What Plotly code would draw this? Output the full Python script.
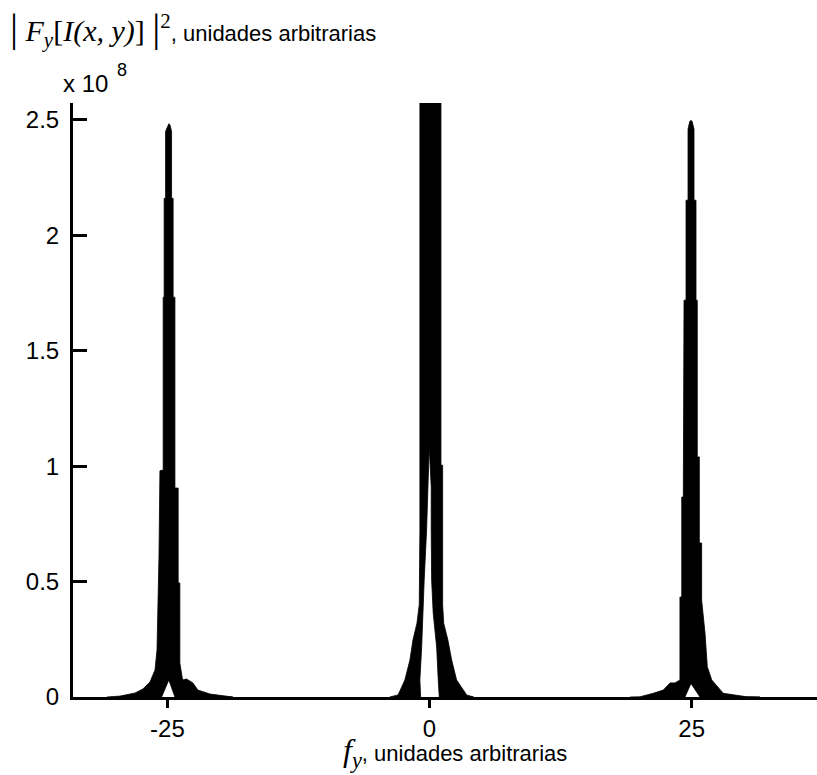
import plotly.graph_objects as go

# ---------------- data (frequency f_y, magnitude |F|^2 in units of 1e8) ----------------
# Outlines of the three black spectral lobes (peak at -25, 0, +25).
left_peak_f = [-30.77, -29.52, -28.09, -27.33, -26.66, -26.18, -25.99, -25.87, -25.80, -25.71,
               -25.40, -25.40, -25.31, -25.31, -25.17, -25.17, -24.97, -24.86, -24.75, -24.60,
               -24.60, -24.45, -24.45, -24.28, -24.28, -23.97, -23.97, -23.81, -23.81, -23.65,
               -23.55, -23.17, -22.57, -22.09, -20.94, -18.75,
               -24.28, -24.86, -25.55]
left_peak_mag = [0.0, 0.004, 0.017, 0.035, 0.065, 0.117, 0.203, 0.42, 0.61, 0.98,
                 0.983, 1.732, 1.732, 2.16, 2.16, 2.45, 2.478, 2.483, 2.478, 2.45,
                 2.16, 2.16, 1.732, 1.732, 0.905, 0.905, 0.494, 0.494, 0.147, 0.095,
                 0.074, 0.078, 0.061, 0.030, 0.013, 0.0,
                 0.0, 0.074, 0.0]

center_peak_f = [-3.80, -3.00, -2.35, -1.87, -1.58, -1.20, -0.98, -0.95,
                 -0.92, -0.92, 1.09, 1.09, 1.25, 1.25, 1.35, 1.75, 2.11, 2.58,
                 3.54, 4.20,
                 0.93, 0.83, 0.68, 0.35, 0.20, 0.16, 0.16, -0.03, -0.12, -0.28,
                 -0.51, -0.60, -0.75, -0.92, -0.85]
center_peak_mag = [0.0, 0.009, 0.074, 0.16, 0.247, 0.32, 0.40, 0.60,
                   0.72, 3.20, 3.20, 1.004, 1.004, 0.40, 0.32, 0.247, 0.16, 0.074,
                   0.009, 0.0,
                   0.0, 0.074, 0.216, 0.364, 0.506, 0.723, 0.91, 1.084, 0.91, 0.723,
                   0.506, 0.364, 0.216, 0.074, 0.0]

right_peak_f = [19.11, 20.07, 21.34, 22.29, 22.94, 23.41, 23.88, 23.88, 24.05, 24.05,
                24.20, 24.20, 24.27, 24.27, 24.46, 24.46, 24.65, 24.65, 24.82, 24.93,
                25.04, 25.22, 25.22, 25.41, 25.41, 25.53, 25.53, 25.73, 25.73, 25.95,
                25.95, 26.27, 26.49, 26.91, 28.01, 30.25, 31.50,
                25.79, 24.93, 24.36]
right_peak_mag = [0.0, 0.001, 0.016, 0.030, 0.061, 0.061, 0.074, 0.433, 0.433, 0.866,
                  0.866, 1.286, 1.286, 1.719, 1.719, 2.152, 2.152, 2.46, 2.493, 2.498,
                  2.493, 2.46, 2.152, 2.152, 1.719, 1.719, 1.040, 1.040, 0.667, 0.667,
                  0.42, 0.277, 0.131, 0.074, 0.016, 0.001, 0.0,
                  0.0, 0.059, 0.0]

x_tick_vals = [-25, 0, 25]
x_tick_text = ["-25", "0", "25"]
y_tick_vals = [0, 0.5, 1, 1.5, 2, 2.5]
y_tick_text = ["0", "0.5", "1", "1.5", "2", "2.5"]

x_range = [-34.0, 36.95]
y_range = [0, 2.573]

SANS = "Liberation Sans, Arial, sans-serif"
SERIF = "Liberation Serif, Times New Roman, serif"

fig = go.Figure()
for fx, my in [(left_peak_f, left_peak_mag), (center_peak_f, center_peak_mag),
               (right_peak_f, right_peak_mag)]:
    fig.add_trace(go.Scatter(
        x=fx, y=my, mode="lines", fill="toself", fillcolor="black",
        line=dict(color="black", width=0.8), hoverinfo="skip", showlegend=False))

fig.update_layout(
    width=817, height=775,
    margin=dict(l=73, r=0, t=103, b=78),
    paper_bgcolor="white", plot_bgcolor="white",
    font=dict(family=SANS, size=24, color="black"),
    showlegend=False,
)
fig.update_xaxes(
    range=x_range, tickvals=x_tick_vals, ticktext=x_tick_text,
    showgrid=False, zeroline=False, showline=True, linecolor="black", linewidth=3,
    ticks="outside", ticklen=8, tickwidth=3, tickcolor="black",
    tickfont=dict(family=SANS, size=24, color="black"),
)
fig.update_yaxes(
    range=y_range, tickvals=y_tick_vals, ticktext=y_tick_text,
    showgrid=False, zeroline=False, showline=True, linecolor="black", linewidth=3,
    ticks="inside", ticklen=14, tickwidth=3, tickcolor="black",
    tickfont=dict(family=SANS, size=24, color="black"),
    ticklabelstandoff=6,
)

# Y-axis title (top-left) and multiplier
fig.add_annotation(
    xref="paper", yref="paper", x=-0.088, y=1.125, xanchor="left", yanchor="middle",
    showarrow=False, font=dict(family=SERIF, size=30, color="black"),
    text=("<span style='font-size:40px'>|</span> <i>F</i><sub><i>y</i></sub>[<i>I(x, y)</i>] "
          "<span style='font-size:40px'>|</span><sup>2</sup>"
          "<span style='font-family:Liberation Sans, Arial, sans-serif;font-size:22px'>"
          ", unidades arbitrarias</span>"),
)
fig.add_annotation(
    xref="paper", yref="paper", x=-0.016, y=1.032, xanchor="left", yanchor="middle",
    showarrow=False, font=dict(family=SANS, size=24, color="black"),
    text="x 10",
)
fig.add_annotation(
    xref="paper", yref="paper", x=0.056, y=1.056, xanchor="left", yanchor="middle",
    showarrow=False, font=dict(family=SANS, size=18, color="black"),
    text="8",
)
# X-axis title
fig.add_annotation(
    xref="paper", yref="paper", x=0.513, y=-0.093, xanchor="center", yanchor="middle",
    showarrow=False, font=dict(family=SERIF, size=32, color="black"),
    text=("<i>f</i><sub><i>y</i></sub>"
          "<span style='font-family:Liberation Sans, Arial, sans-serif;font-size:22px'>"
          ", unidades arbitrarias</span>"),
)

fig.write_html("out.html")
